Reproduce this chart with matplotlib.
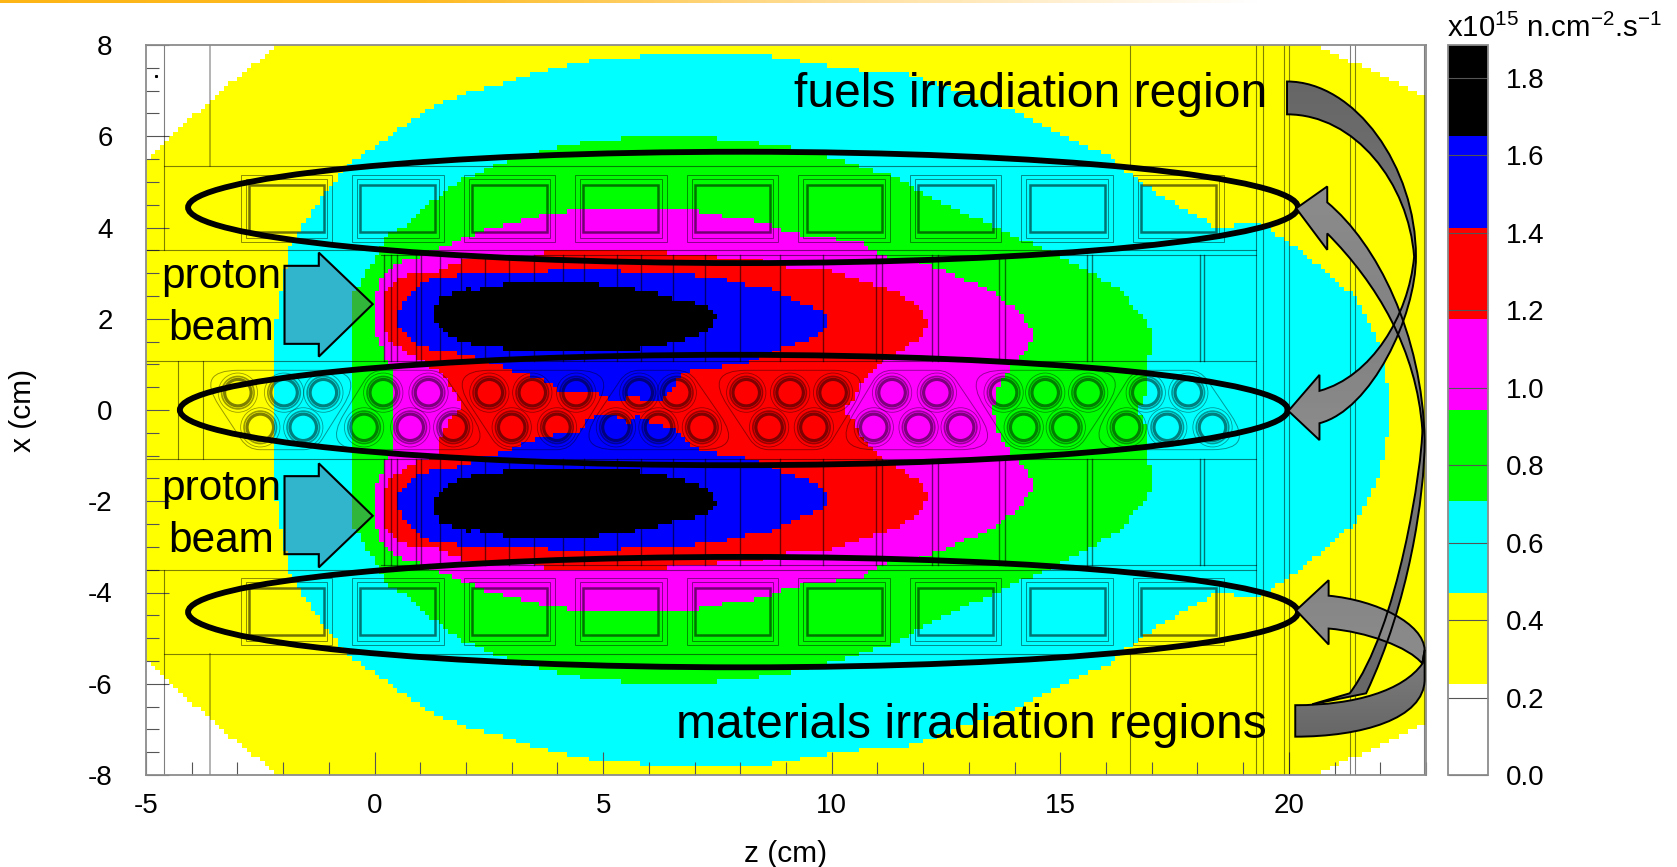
import matplotlib
matplotlib.use('Agg')
import matplotlib.pyplot as plt
import numpy as np
from matplotlib.colors import ListedColormap, BoundaryNorm, LinearSegmentedColormap
from matplotlib.colorbar import Colorbar
from matplotlib.patches import Circle, Ellipse, Rectangle, Polygon, PathPatch
from matplotlib.path import Path

plt.rcParams['font.family'] = ['Liberation Sans', 'DejaVu Sans']
plt.rcParams['axes.unicode_minus'] = False
plt.rcParams['mathtext.fontset'] = 'custom'
plt.rcParams['mathtext.rm'] = 'Liberation Sans'
plt.rcParams['mathtext.default'] = 'rm'

# colour scale
level_bounds = [0.0, 0.2355, 0.471, 0.7065, 0.942, 1.1775, 1.413, 1.6485, 1.884]
level_colors = ['#ffffff', '#ffff00', '#00ffff', '#00ff00', '#ff00ff', '#ff0000', '#0000ff', '#000000']
cbar_ticks = [0.0, 0.2, 0.4, 0.6, 0.8, 1.0, 1.2, 1.4, 1.6, 1.8]

# flux contours, upper half (x >= 0), lower half is a mirror
yellow_z = [-5, -4.68, -4.2, -3.59, -2.78, -2.09, 20.57, 21.45, 22.27, 22.97, 23]
yellow_x = [5.48, 5.77, 6.21, 6.8, 7.46, 8, 8, 7.6, 7.24, 6.87, 6.87]

cyan_z = [-2.2, -2.2, -2.15, -1.91, -1.85, -1.5, -1.03, -0.57, 0.02, 0.61, 1.19, 2.0, 2.95, 3.89, 4.82, 6.23, 8.57,
	9.4, 10.2, 11.72, 14.07, 16.06, 17.0, 18.4, 19.34, 19.93, 20.75, 21.45, 21.8, 21.98, 22.15, 22.2]
cyan_x = [0, 0.95, 2.04, 3.36, 3.58, 4.17, 4.82, 5.37, 5.77, 6.21, 6.61, 6.94, 7.2, 7.49, 7.67, 7.78, 7.78,
	7.64, 7.49, 7.35, 6.51, 5.55, 4.82, 4.02, 4.09, 3.73, 3.07, 2.48, 1.83, 1.39, 0.58, 0]

green_z = [-0.51, -0.51, -0.33, 0.02, 0.25, 0.72, 1.19, 1.9, 2.95, 4.12, 4.71, 5.76, 7.17, 8.1, 9.04,
	10.2, 11.37, 12.54, 13.72, 14.65, 15.47, 16.29, 16.88, 17.0, 16.9, 16.86, 16.7]
green_x = [0, 2.48, 2.78, 3.36, 3.8, 4.09, 4.53, 5.04, 5.48, 5.77, 5.88, 5.99, 5.99, 5.88, 5.77,
	5.48, 5.12, 4.46, 3.95, 3.51, 3.14, 2.63, 1.97, 1.61, 0.8, 0.36, 0]

magenta_z = [0.4, 0.4, 0.2, 0.02, -0.015, 0.14, 0.49, 0.96, 1.31, 1.9, 2.36, 3.07, 3.65, 4.36, 6.93, 7.64, 8.46, 9.16,
	10.2, 10.67, 11.14, 12.08, 12.89, 13.6, 14.2, 14.4, 14.24, 13.95, 13.6, 13.54]
magenta_x = [0, 0.88, 1.24, 1.68, 2.41, 2.85, 3.22, 3.32, 3.51, 3.73, 3.95, 4.13, 4.27, 4.38, 4.38, 4.24, 4.13, 3.87,
	3.73, 3.65, 3.36, 3.22, 2.86, 2.56, 2.04, 1.68, 1.24, 0.95, 0.44, 0]

red_z = [0.2, 0.24, 0.53, 0.86, 1.3, 1.52, 1.88, 3.63, 3.7, 6.4, 6.44, 7.35, 8.3, 9.1, 9.72, 10.34, 10.79, 11.49,
	11.96, 12.08, 11.96, 11.67, 11.25, 10.92, 10.67, 10.56, 10.41, 10.3]
red_x = [2.3, 2.56, 2.92, 3.0, 3.0, 3.14, 3.25, 3.36, 3.49, 3.49, 3.36, 3.36, 3.29, 3.14, 3.14, 2.92, 2.78, 2.56,
	2.19, 1.9, 1.61, 1.39, 1.17, 0.91, 0.66, 0.44, 0.15, 0]
# magenta wedge cut into the red on the left side of the core, bottom to top
red_cut_z = [0.2, 0.28, 0.5, 0.86, 1.44, 1.44, 1.59, 1.81, 1.92, 1.66, 1.37, 0.86, 0.5, 0.28, 0.2]
red_cut_x = [-1.83, -1.61, -1.39, -1.17, -0.95, -0.67, -0.29, -0.07, 0.15, 0.51, 0.88, 1.17, 1.39, 1.61, 1.83]

# blue lobes, outer rim shared, inner rim differs between the two
blue_rim_z = [0.5, 0.68, 1.0, 1.41, 2.32, 3.78, 3.92, 5.38, 5.45, 6.84, 7.06, 7.64, 7.86, 8.37, 8.81, 9.17, 9.76, 9.94, 9.85, 9.68, 9.1, 8.23]
blue_rim_x = [2.08, 2.41, 2.78, 2.92, 3.0, 3.03, 3.11, 3.11, 3.0, 3.0, 2.92, 2.89, 2.78, 2.7, 2.63, 2.41, 2.19, 1.97, 1.8, 1.6, 1.42, 1.06]
blue_up_z = [7.64, 7.13, 6.7, 6.55, 6.26, 5.97, 5.67, 5.38, 5.05, 4.8, 4.43, 4.07, 3.85, 3.49, 3.12, 2.79, 2.1, 1.74, 1.37, 0.97, 0.86, 0.57]
blue_up_x = [0.95, 0.91, 0.8, 0.51, 0.22, 0.22, 0.29, 0.22, 0.26, 0.4, 0.37, 0.37, 0.58, 0.73, 0.8, 0.95, 1.17, 1.28, 1.32, 1.39, 1.46, 1.75]
blue_low_z = [7.64, 7.13, 6.84, 6.55, 6.11, 5.75, 5.53, 5.16, 4.87, 4.65, 4.43, 4.21, 3.92, 3.63, 3.19, 2.83, 2.39, 1.74, 1.37, 0.97, 0.86, 0.57]
blue_low_x = [-0.99, -0.88, -0.73, -0.44, -0.29, -0.11, -0.29, -0.07, -0.11, -0.22, -0.51, -0.51, -0.55, -0.59, -0.77, -0.91, -1.02, -1.28, -1.32, -1.39, -1.46, -1.75]

black_z = [1.3, 1.41, 1.73, 2.03, 2.25, 2.97, 4.0, 4.58, 5.6, 6.18, 6.7, 7.21, 7.46, 7.41, 7.13, 6.84, 6.11, 5.31, 3.56, 2.32, 1.73, 1.37]
black_x = [2.12, 2.45, 2.56, 2.67, 2.63, 2.78, 2.78, 2.78, 2.67, 2.56, 2.37, 2.34, 2.05, 1.83, 1.68, 1.55, 1.39, 1.28, 1.28, 1.39, 1.57, 1.83]

# geometry overlay
square_z = [-1.93, 0.51, 2.95, 5.39, 7.83, 10.27, 12.71, 15.15, 17.59]
lobe_lines_z = [0.2, 0.37, 0.49, 0.9, 1.02, 1.43, 1.9, 2.42, 2.95, 3.48, 4.12, 4.59, 5.3, 5.82, 6.53, 7.23, 7.99, 8.87, 9.81, 10.96, 11.1, 12.19, 12.33, 13.66, 13.8, 15.59, 15.7, 18.05, 18.15]
full_lines_z = [19.28, 19.44, 19.9, 20.0, 21.33, 21.45, 22.95]
rod_groups = [([-2.99, -1.98, -1.12], [-2.5, -1.56]), ([0.19, 1.18], [-0.23, 0.78, 1.72]),
	([2.51, 3.45, 4.41], [3.0, 3.99]), ([5.79, 6.61], [5.28, 6.21, 7.16]),
	([8.13, 9.09, 10.03], [8.63, 9.61]), ([11.32, 12.3], [10.92, 11.9, 12.82]),
	([13.76, 14.67, 15.61], [14.2, 15.12]), ([16.87, 17.8], [16.45, 17.34, 18.33])]
rod_row_x = 0.38

# annotations
ellipses = [(8.06, 4.44, 24.28, 2.44), (7.86, 0.0, 24.24, 2.42), (8.06, -4.43, 24.28, 2.42)]
beam_z = [-1.97, -1.22, -1.22, -0.04, -1.22, -1.22, -1.97]
beam_x = [3.16, 3.16, 3.45, 2.32, 1.17, 1.45, 1.45]

fig = plt.figure(figsize=(16.77, 8.67), dpi=100)
W, H = 1677.0, 867.0
ax = fig.add_axes([146 / W, 1 - 775 / H, 1280 / W, 730 / H])

cmap = ListedColormap(level_colors)
norm = BoundaryNorm(level_bounds, cmap.N)


def mirrored(z, x):
	return list(z) + list(z)[::-1], list(x) + [-v for v in list(x)[::-1]]


def curve_patch(start, segments, **kw):
	verts = [start]
	codes = [Path.MOVETO]
	for seg in segments:
		verts.extend(seg)
		codes.extend([Path.LINETO] if len(seg) == 1 else [Path.CURVE4] * 3)
	verts.append(start)
	codes.append(Path.CLOSEPOLY)
	return PathPatch(Path(verts, codes), **kw)


def gradient_arrow(start, segments, top, bottom, y_top, y_bottom):
	# grey shaded block arrow, shading is an image clipped to the outline
	patch = curve_patch(start, segments, facecolor='none', edgecolor='black', lw=1.4, zorder=7)
	ax.add_patch(patch)
	grad = LinearSegmentedColormap.from_list('g', [top, bottom])
	im = ax.imshow(np.linspace(0, 1, 64).reshape(-1, 1), extent=[19, 23.2, y_bottom, y_top], origin='upper',
		aspect='auto', cmap=grad, zorder=6)
	im.set_clip_path(patch)


def rounded_outline(points, dists):
	# closed outline with every corner rounded off, dist is how far back the curve starts
	verts = []
	codes = []
	n = len(points)
	for i in range(n):
		p = np.array(points[i], float)
		a = np.array(points[i - 1], float)
		b = np.array(points[(i + 1) % n], float)
		p0 = p + (a - p) / np.linalg.norm(a - p) * dists[i]
		p1 = p + (b - p) / np.linalg.norm(b - p) * dists[i]
		verts += [p0, p, p1]
		codes += [Path.MOVETO if i == 0 else Path.LINETO, Path.CURVE3, Path.CURVE3]
	verts.append(verts[0])
	codes.append(Path.CLOSEPOLY)
	return Path(verts, codes)


# the map is binned like the original histogram, fine bins of 0.1 cm
z_edges = np.linspace(-5, 23, 281)
x_edges = np.linspace(-8, 8, 161)
z_mid, x_mid = np.meshgrid((z_edges[:-1] + z_edges[1:]) / 2, (x_edges[:-1] + x_edges[1:]) / 2)
centers = np.column_stack([z_mid.ravel(), x_mid.ravel()])
flux = np.full(z_mid.shape, 0.1)


def paint(z, x, level):
	inside = Path(np.column_stack([z, x]), closed=False).contains_points(centers).reshape(z_mid.shape)
	flux[inside] = (level_bounds[level] + level_bounds[level + 1]) / 2


z, x = mirrored(yellow_z, yellow_x)
paint(z, x, 1)
z, x = mirrored(cyan_z, cyan_x)
paint(z, x, 2)
z, x = mirrored(green_z, green_x)
paint(z, x, 3)
z, x = mirrored(magenta_z, magenta_x)
paint(z, x, 4)
z, x = mirrored(red_z, red_x)
paint(z + red_cut_z, x + red_cut_x, 5)
paint(blue_rim_z + blue_up_z, blue_rim_x + blue_up_x, 6)
paint(blue_rim_z + blue_low_z, [-v for v in blue_rim_x] + blue_low_x, 6)
paint(black_z, black_x, 7)
paint(black_z, [-v for v in black_x], 7)
ax.pcolormesh(z_edges, x_edges, flux, cmap=cmap, norm=norm, antialiased=False, zorder=1)

# thin geometry lines
line_kw = dict(color='black', alpha=0.5, lw=0.8, zorder=2)
for s in [1, -1]:
	ax.plot([-4.6, 19.28], [s * 5.35, s * 5.35], **line_kw)
	ax.plot([-5, 19.28], [s * 3.5, s * 3.5], **line_kw)
	ax.plot([0.13, 19.28], [s * 3.4, s * 3.4], **line_kw)
	ax.plot([-5, 19.28], [s * 1.08, s * 1.08], **line_kw)
	ax.plot([-4.6, -4.6], [s * 3.5, s * 8], **line_kw)
	ax.plot([-3.6, -3.6], [s * 5.35, s * 8], color='black', alpha=0.35, lw=1.2, zorder=2)
	ax.plot([16.53, 16.53], [s * 5.35, s * 8], **line_kw)
	for lz in lobe_lines_z:
		ax.plot([lz, lz], [s * 1.08, s * 3.4], color='black', alpha=0.55, lw=1.0, zorder=2)
	for sq in square_z:
		for hw, hh, lw, al in [(1.0, 0.73, 0.7, 0.45), (0.89, 0.64, 0.7, 0.45), (0.82, 0.52, 1.8, 0.55)]:
			ax.add_patch(Rectangle((sq - hw, s * 4.42 - hh), 2 * hw, 2 * hh, fill=False, ec='black', lw=lw, alpha=al, zorder=2))
for lz in full_lines_z:
	ax.plot([lz, lz], [-8, 8], **line_kw)
ax.plot([-4.3, -4.3], [-1.08, 1.08], **line_kw)
ax.plot([-3.76, -3.76], [-1.08, 1.08], **line_kw)
ax.plot([-4.79], [7.32], marker='s', ms=1.2, color='black', zorder=2)

# fuel rods and their hexagonal assemblies
for up, low in rod_groups:
	if len(up) > len(low):
		top_off, bot_off = 0.92, 0.27
	else:
		top_off, bot_off = 0.27, 0.92
	outline = rounded_outline([(min(up) - top_off, 0.87), (max(up) + top_off, 0.87), (max(low) + bot_off, -0.87), (min(low) - bot_off, -0.87)],
		[top_off, top_off, bot_off, bot_off])
	ax.add_patch(PathPatch(outline, fill=False, ec='black', lw=0.7, alpha=0.4, zorder=2))
	for row, rx in [(up, rod_row_x), (low, -rod_row_x)]:
		for rz in row:
			ax.add_patch(Circle((rz, rx), 0.29, fill=False, ec='black', lw=2.3, alpha=0.5, zorder=2))
			ax.add_patch(Circle((rz, rx), 0.355, fill=False, ec='black', lw=1.2, alpha=0.4, zorder=2))
			ax.add_patch(Circle((rz, rx), 0.43, fill=False, ec='black', lw=0.6, alpha=0.4, zorder=2))

# irradiation region ellipses
for cz, cx, w, h in ellipses:
	ax.add_patch(Ellipse((cz, cx), w, h, fill=False, ec='black', lw=4.2, zorder=5))

# proton beam arrows
for s in [1, -1]:
	ax.add_patch(Polygon(list(zip(beam_z, [s * v for v in beam_x])), closed=True, fc=(115 / 255, 85 / 255, 138 / 255, 0.435),
		ec='black', lw=1.5, zorder=5))

# curved arrows
gradient_arrow((20.84, 3.87), [
	[(21.92, 2.78), (22.8, 1.32), (22.92, -0.44)], [(22.92, -1.17), (22.39, -4.82), (21.33, -6.21)], [(20.51, -6.45)],
	[(21.69, -6.21)], [(22.62, -4.24), (22.97, -1.9), (22.97, -0.66)], [(22.92, 1.68), (21.92, 3.65), (20.84, 4.55)],
	[(20.84, 4.9)], [(20.16, 4.42)], [(20.84, 3.51)]], '#8c8c8c', '#666666', 5, -7)
gradient_arrow((19.96, 7.2), [
	[(21.45, 7.2), (22.78, 5.34), (22.78, 3.36)], [(22.78, 2.05), (21.8, 0.0), (20.67, -0.29)], [(20.67, -0.66)],
	[(19.99, -0.02)], [(20.67, 0.77)], [(20.67, 0.42)], [(21.8, 0.73), (22.62, 2.05), (22.74, 3.36)],
	[(22.62, 4.97), (21.45, 6.48), (19.96, 6.48)]], '#666666', '#8c8c8c', 7.2, -0.7)
gradient_arrow((22.92, -5.56), [
	[(22.97, -5.26)], [(22.95, -4.68), (21.92, -4.17), (20.87, -4.07)], [(20.87, -3.73)], [(20.16, -4.39)], [(20.87, -5.14)],
	[(20.87, -4.79)], [(21.69, -4.86), (22.62, -5.19), (22.92, -5.56)]], '#858585', '#8c8c8c', -3.7, -5.6)
gradient_arrow((20.14, -7.16), [
	[(21.57, -7.16), (22.97, -6.78), (22.97, -5.9)], [(22.97, -5.26)], [(22.92, -5.56)],
	[(22.5, -6.15), (21.45, -6.47), (20.14, -6.47)]], '#808080', '#666666', -5.2, -7.2)

# text on the map
ax.text(19.52, 6.64, 'fuels irradiation region', ha='right', va='baseline', fontsize=34.6, color='black', zorder=8)
ax.text(19.52, -7.19, 'materials irradiation regions', ha='right', va='baseline', fontsize=34.6, color='black', zorder=8)
for b1, b2 in [(2.67, 1.54), (-1.97, -3.11)]:
	ax.text(-3.35, b1, 'proton', ha='center', va='baseline', fontsize=30.5, color='black', zorder=8)
	ax.text(-3.35, b2, 'beam', ha='center', va='baseline', fontsize=30.5, color='black', zorder=8)

ax.set_xlim(-5, 23)
ax.set_ylim(-8, 8)
ax.set_xticks(range(-5, 21, 5))
ax.set_xticks(range(-5, 24), minor=True)
ax.set_yticks(range(-8, 9, 2))
ax.set_yticks(np.arange(-8, 8.5, 0.5), minor=True)
ax.tick_params(which='major', direction='in', length=16.5, width=0.8, color='#555555', labelsize=20, top=False, right=False, zorder=3)
ax.tick_params(which='minor', direction='in', length=9.3, width=0.8, color='#555555', top=False, right=False, zorder=3)
ax.tick_params(axis='x', which='major', pad=13)
ax.tick_params(axis='y', which='major', pad=24)
for sp in ax.spines.values():
	sp.set_color('#8c8c8c')
	sp.set_linewidth(1.3)
fig.text(786 / W, 1 - 862 / H, 'z (cm)', ha='center', va='baseline', fontsize=21.5)
fig.text(37 / W, 1 - 410 / H, 'x (cm)', ha='right', va='center', rotation=90, fontsize=21.5)

# colour bar
cax = fig.add_axes([1448 / W, 1 - 775 / H, 40 / W, 730 / H])
cb = Colorbar(cax, cmap=cmap, norm=norm, spacing='proportional', ticks=cbar_ticks, format='%.1f', drawedges=False)
cb.minorticks_off()
cax.tick_params(direction='in', length=28.8, width=0.8, color='#555555', labelsize=20, pad=13)
cb.outline.set_edgecolor('#8c8c8c')
cb.outline.set_linewidth(1.3)
fig.text(1447 / W, 1 - 37 / H, r'x10$^{15}$ n.cm$^{-2}$.s$^{-1}$', ha='left', va='baseline', fontsize=21.2)

# orange slide rule along the top edge
bar = fig.add_axes([0, 1 - 3 / H, 1, 3 / H])
bar.imshow(np.linspace(0, 1, 256).reshape(1, -1), aspect='auto',
	cmap=LinearSegmentedColormap.from_list('o', ['#fdb515', '#fdbb22', '#ffdf9c', '#ffffff', '#ffffff']))
bar.axis('off')

fig.savefig('out.png', dpi=100)
